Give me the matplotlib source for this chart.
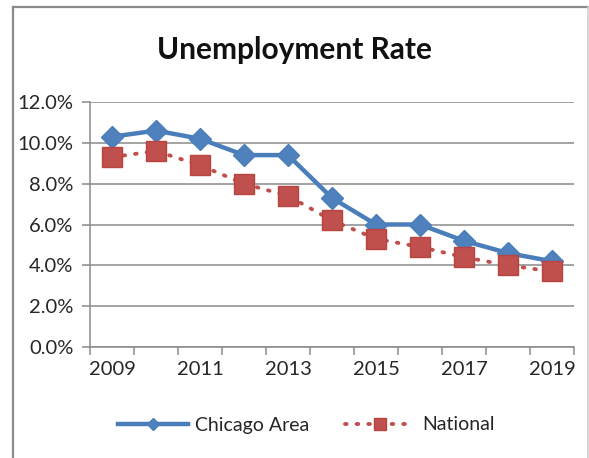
import matplotlib
matplotlib.use("Agg")
import matplotlib.pyplot as plt
from matplotlib.lines import Line2D
from matplotlib.ticker import FuncFormatter, FixedLocator

years = [2009, 2010, 2011, 2012, 2013, 2014, 2015, 2016, 2017, 2018, 2019]
chicago = [10.3, 10.6, 10.2, 9.4, 9.4, 7.3, 6.0, 6.0, 5.2, 4.6, 4.2]
national = [9.3, 9.6, 8.9, 8.0, 7.4, 6.2, 5.3, 4.9, 4.4, 4.0, 3.7]
year_labels = [2009, 2011, 2013, 2015, 2017, 2019]

plt.rcParams['font.family'] = ['Lato', 'DejaVu Sans']

fig = plt.figure(figsize=(5.89, 4.58), dpi=100)
W, H = 589, 458

# chart frame like excel (left/top dark, right light)
fig.lines.append(Line2D([13 / W, 13 / W], [0, 1 - 7 / H], transform=fig.transFigure,
                        color='#8a8a8a', linewidth=1.6))
fig.lines.append(Line2D([13 / W, 588 / W], [1 - 7 / H, 1 - 7 / H], transform=fig.transFigure,
                        color='#8a8a8a', linewidth=1.6))
fig.lines.append(Line2D([588 / W, 588 / W], [0, 1 - 7 / H], transform=fig.transFigure,
                        color='#d0d0d0', linewidth=1.2))

ax = fig.add_axes([90 / W, 1 - 347 / H, 484 / W, 245 / H])

blue = '#4A7EBB'
red = '#C0504D'
ax.plot(years, chicago, color=blue, linewidth=3.2, marker='D', markersize=11.5,
        markerfacecolor='#4F81BD', markeredgecolor=blue, label='Chicago Area', zorder=3)
ax.plot(years, national, color=red, linewidth=2.8, linestyle=(0, (0.4, 2.6)),
        dash_capstyle='round', marker='s', markersize=15,
        markerfacecolor=red, markeredgecolor='#b84440', label='National', zorder=4)

ax.set_ylim(0, 12)
ax.set_xlim(2008.5, 2019.5)
ax.set_yticks(range(0, 13, 2))
ax.yaxis.set_major_formatter(FuncFormatter(lambda v, p: '%.1f%%' % v))
ax.grid(axis='y', color='#8a8a8a', linewidth=1.1)
ax.set_axisbelow(True)

# ticks at category boundaries, labels at centers
ax.xaxis.set_major_locator(FixedLocator([y - 0.5 for y in years] + [2019.5]))
ax.xaxis.set_major_formatter(FuncFormatter(lambda v, p: ''))
ax.xaxis.set_minor_locator(FixedLocator(year_labels))
ax.set_xticklabels([str(y) for y in year_labels], minor=True)
ax.tick_params(axis='x', which='major', length=6, color='#8a8a8a', width=1.1)
ax.tick_params(axis='x', which='minor', length=0, pad=10, labelsize=14.5, labelcolor='#262626')
ax.tick_params(axis='y', length=6, color='#8a8a8a', width=1.1, pad=6,
               labelsize=14.5, labelcolor='#262626')

for s in ['top', 'right']:
    ax.spines[s].set_visible(False)
for s in ['left', 'bottom']:
    ax.spines[s].set_color('#8a8a8a')
    ax.spines[s].set_linewidth(1.1)

fig.text(0.5, 1 - 50 / H, 'Unemployment Rate', ha='center', va='center',
         fontsize=21.5, fontweight='bold', color='#111111')

leg = fig.legend(loc='center', bbox_to_anchor=(0.52, 1 - 425 / H), ncol=2,
                 frameon=False, fontsize=14, handlelength=3.6,
                 columnspacing=1.8, markerscale=0.55, handletextpad=0.4)
for t in leg.get_texts():
    t.set_color('#262626')

fig.savefig('out.png', dpi=100)
